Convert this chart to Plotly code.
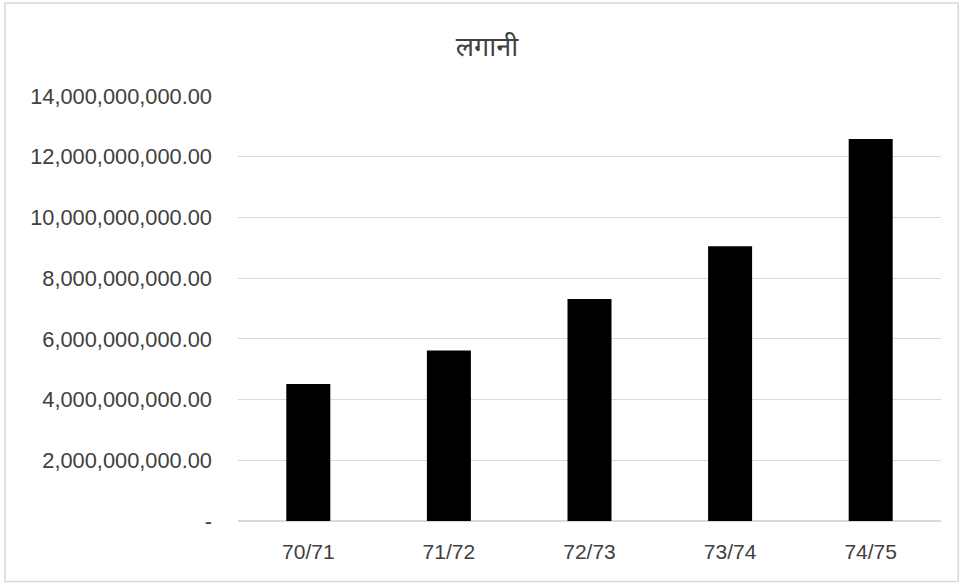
import plotly.graph_objects as go

categories = ["70/71", "71/72", "72/73", "73/74", "74/75"]
values = [4.51e9, 5.62e9, 7.31e9, 9.05e9, 12.58e9]
tick_vals = [0, 2e9, 4e9, 6e9, 8e9, 10e9, 12e9, 14e9]
tick_text = ["-", "2,000,000,000.00", "4,000,000,000.00", "6,000,000,000.00",
             "8,000,000,000.00", "10,000,000,000.00", "12,000,000,000.00",
             "14,000,000,000.00"]
title_text = "लगानी"

fig = go.Figure(go.Bar(x=categories, y=values, marker=dict(color="#000000", line=dict(width=0))))

font_family = "Liberation Sans, Arial, sans-serif"
txt_color = "#404040"
fig.update_layout(
    width=959, height=584,
    margin=dict(l=238, r=18, t=96, b=63),
    paper_bgcolor="white", plot_bgcolor="white",
    bargap=0.687,
    showlegend=False,
    title=dict(text=title_text, xref="container", yref="container", x=0.5078, xanchor="center",
               y=0.921, yanchor="middle",
               font=dict(family="Noto Sans Devanagari, Lohit Devanagari, Noto Sans, sans-serif",
                         size=27, color=txt_color)),
    font=dict(family=font_family, size=21, color=txt_color),
    xaxis=dict(showgrid=False, showline=False, ticks="", tickfont=dict(size=21, color=txt_color),
               ticklabelstandoff=16),
    yaxis=dict(range=[0, 14e9], tickvals=tick_vals, ticktext=tick_text, showgrid=True,
               gridcolor="#d9d9d9", gridwidth=1, zeroline=True, zerolinecolor="#d9d9d9",
               showline=False, ticks="", ticklabelstandoff=25,
               tickfont=dict(size=21.8, color=txt_color)),
    shapes=[dict(type="rect", xref="paper", yref="paper", x0=-0.3314, x1=1.0245, y0=-0.1424, y1=1.2188,
                 line=dict(color="#d9d9d9", width=1.5), fillcolor="rgba(0,0,0,0)", layer="below")],
)

fig.write_html("out.html", config={"displayModeBar": False},
               post_script="document.body.style.margin='0';document.body.style.overflow='hidden';")
